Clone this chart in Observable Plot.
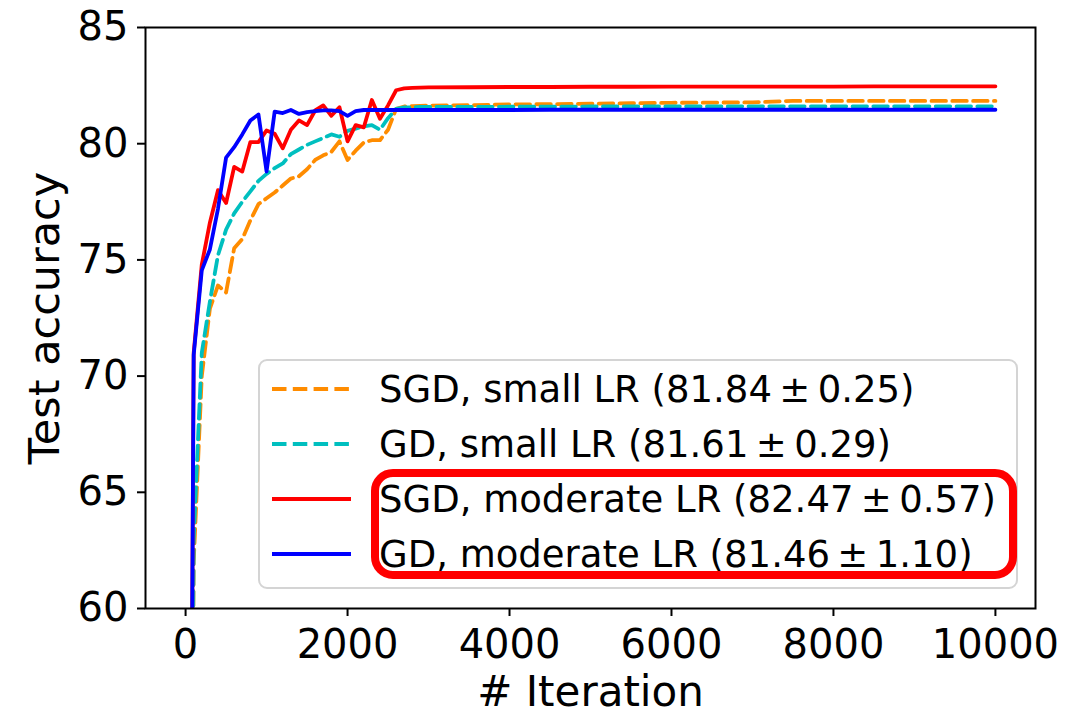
<!DOCTYPE html>
<html>
<head>
<meta charset="utf-8">
<script src="https://cdn.jsdelivr.net/npm/d3@7"></script>
<script src="https://cdn.jsdelivr.net/npm/@observablehq/plot@0.6"></script>
<style>
  html, body { margin: 0; padding: 0; background: white; }
  #chart { width: 1066px; height: 714px; }
</style>
</head>
<body>
<div id="chart"></div>
<script>
// ---- data ----
const iterations = [0, 100, 200, 300, 400, 500, 600, 700, 800, 900,
  1000, 1100, 1200, 1300, 1400, 1500, 1600, 1700, 1800, 1900,
  2000, 2100, 2200, 2300, 2400, 2500, 2600, 2700, 2800, 2900, 3000,
  3500, 4000, 4500, 5000, 5500, 6000, 6500, 7000, 7500, 8000, 8500, 9000, 9500, 10000];

const sgdSmall = [10, 62, 70.0, 72.9, 73.9, 73.6, 75.5, 75.9, 76.7, 77.4,
  77.65, 77.9, 78.2, 78.5, 78.6, 78.9, 79.3, 79.5, 79.65, 80.1,
  79.3, 79.7, 80.05, 80.15, 80.15, 80.6, 81.5, 81.6, 81.62, 81.63, 81.64,
  81.66, 81.69, 81.7, 81.72, 81.74, 81.76, 81.77, 81.78, 81.84, 81.84, 81.84, 81.84, 81.84, 81.84];

const gdSmall = [10, 63, 71.0, 73.2, 75.2, 76.3, 77.0, 77.5, 77.95, 78.4,
  78.7, 78.95, 79.15, 79.55, 79.75, 79.95, 80.1, 80.25, 80.4, 80.3,
  80.55, 80.65, 80.75, 80.8, 80.6, 81.1, 81.5, 81.56, 81.57, 81.58, 81.58,
  81.58, 81.59, 81.59, 81.6, 81.6, 81.6, 81.6, 81.61, 81.61, 81.61, 81.61, 81.61, 81.61, 81.61];

const sgdModerate = [10, 71.0, 74.8, 76.6, 78.0, 77.45, 79.0, 78.8, 80.07, 80.07,
  80.57, 80.43, 79.8, 80.6, 81.0, 80.8, 81.43, 81.65, 81.2, 81.57,
  80.1, 80.8, 80.7, 81.88, 81.07, 81.65, 82.3, 82.38, 82.4, 82.41, 82.42,
  82.43, 82.44, 82.44, 82.45, 82.45, 82.46, 82.46, 82.46, 82.46, 82.46, 82.47, 82.47, 82.47, 82.47];

const gdModerate = [10, 70.9, 74.55, 75.45, 77.2, 79.4, 79.85, 80.4, 81.0, 81.26,
  78.8, 81.38, 81.32, 81.45, 81.28, 81.36, 81.4, 81.43, 81.43, 81.4,
  81.2, 81.4, 81.45, 81.45, 81.45, 81.45, 81.45, 81.45, 81.45, 81.45, 81.45,
  81.45, 81.45, 81.46, 81.46, 81.46, 81.46, 81.46, 81.46, 81.46, 81.46, 81.46, 81.46, 81.46, 81.46];

const seriesNames = [
  "SGD, small LR (81.84\u2009\u00b1\u20090.25)",
  "GD, small LR (81.61\u2009\u00b1\u20090.29)",
  "SGD, moderate LR (82.47\u2009\u00b1\u20090.57)",
  "GD, moderate LR (81.46\u2009\u00b1\u20091.10)"
];
const seriesColors = ["#ff8c00", "#00bfbf", "#ff0000", "#0000ff"];
const seriesDashed = [true, true, false, false];
const xTicks = [0, 2000, 4000, 6000, 8000, 10000];
const yTicks = [60, 65, 70, 75, 80, 85];
const xLabel = "# Iteration";
const yLabel = "Test accuracy";

// ---- chart ----
const seriesValues = [sgdSmall, gdSmall, sgdModerate, gdModerate];
const FONT = "'DejaVu Sans', sans-serif";
const DASH = "14.5,6.3";

const lineMarks = seriesValues.map((vals, k) =>
  Plot.line(iterations.map((it, i) => ({iteration: it, accuracy: vals[i]})), {
    x: "iteration",
    y: "accuracy",
    stroke: seriesColors[k],
    strokeWidth: 3.8,
    strokeDasharray: seriesDashed[k] ? DASH : null,
    strokeLinejoin: "round",
    clip: true
  })
);

const W = 1066, H = 714;
const mL = 145, mR = 31, mT = 27, mB = 106;

const plot = Plot.plot({
  width: W,
  height: H,
  marginLeft: mL,
  marginRight: mR,
  marginTop: mT,
  marginBottom: mB,
  style: {fontFamily: FONT, background: "white", color: "black", overflow: "visible"},
  x: {domain: [-495, 10495]},
  y: {domain: [60, 85]},
  marks: [
    ...lineMarks,
    Plot.frame({stroke: "black", strokeWidth: 2}),
    Plot.axisX({ticks: xTicks, tickFormat: "d", tickSize: 8, tickPadding: 13, fontSize: 40, label: null, strokeWidth: 2}),
    Plot.axisY({ticks: yTicks, tickFormat: "d", tickSize: 8, tickPadding: 9, fontSize: 40, label: null, strokeWidth: 2}),
    Plot.text([yLabel], {frameAnchor: "left", dx: -100, rotate: -90, fontSize: 43, fill: "black", textAnchor: "middle", lineAnchor: "middle"}),
    Plot.text([xLabel], {frameAnchor: "bottom", dy: 84, fontSize: 42, fill: "black", textAnchor: "middle", lineAnchor: "middle"})
  ]
});

document.getElementById("chart").appendChild(plot);

// ---- legend (lower right, inside the axes) ----
const svg = d3.select(plot);
const frameRight = W - mR, frameBottom = H - mB;
const legW = 758, legH = 228, pad = 18;
const legX = frameRight - pad - legW;   // ~260
const legY = frameBottom - 20 - legH;   // ~360
const lg = svg.append("g").attr("transform", `translate(${legX},${legY})`);
lg.append("rect")
  .attr("x", 0).attr("y", 0).attr("width", legW).attr("height", legH)
  .attr("rx", 8).attr("ry", 8)
  .attr("fill", "white").attr("fill-opacity", 0.8)
  .attr("stroke", "#d4d4d4").attr("stroke-width", 2);
const rowY = [29, 84, 139, 194];
seriesNames.forEach((name, k) => {
  lg.append("line")
    .attr("x1", 13).attr("x2", 92)
    .attr("y1", rowY[k]).attr("y2", rowY[k])
    .attr("stroke", seriesColors[k]).attr("stroke-width", 3.8)
    .attr("stroke-dasharray", seriesDashed[k] ? DASH : null);
  lg.append("text")
    .attr("x", 120).attr("y", rowY[k]).attr("dy", "0.36em")
    .attr("text-anchor", "start")
    .attr("font-family", FONT).attr("font-size", 37).attr("fill", "black")
    .text(name);
});
// red highlight around the moderate-LR entries
lg.append("rect")
  .attr("x", 116).attr("y", 113).attr("width", 638).attr("height", 102)
  .attr("rx", 18).attr("ry", 18)
  .attr("fill", "none").attr("stroke", "#ff0000").attr("stroke-width", 8);
</script>
</body>
</html>
